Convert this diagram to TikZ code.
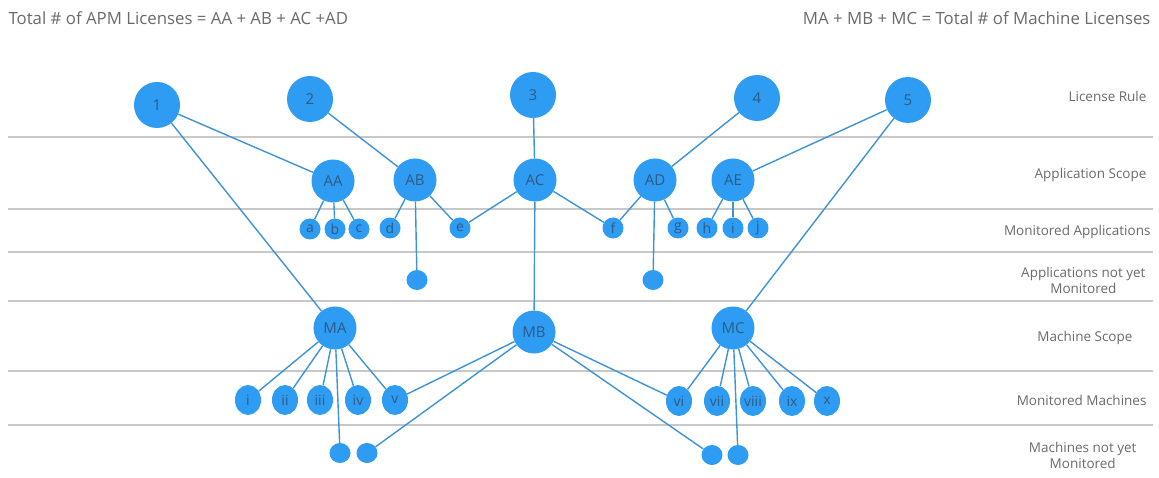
\documentclass[tikz,border=0pt]{standalone}
\usepackage{fontspec}
\setmainfont{Open Sans}
\usetikzlibrary{shapes.geometric}

\definecolor{kreis}{HTML}{2E9CF2}
\definecolor{kante}{HTML}{3C93D6}
\definecolor{schrift}{HTML}{2F5A85}
\definecolor{linie}{HTML}{C8C8C8}
\definecolor{grautext}{HTML}{6A6A6A}

\begin{document}
\begin{tikzpicture}[x=1pt,y=-1pt,
		regel/.style={circle,fill=kreis,minimum size=46pt,inner sep=0pt,text=schrift,font=\fontsize{15}{15}\selectfont},
		bereich/.style={circle,fill=kreis,minimum size=43pt,inner sep=0pt,text=schrift,font=\fontsize{15}{15}\selectfont},
		klein/.style={circle,fill=kreis,minimum size=21pt,inner sep=0pt,text=schrift,font=\fontsize{14}{14}\selectfont},
		maschine/.style={ellipse,fill=kreis,minimum width=26pt,minimum height=30pt,inner sep=0pt,text=schrift,font=\fontsize{14}{14}\selectfont},
		offen/.style={ellipse,fill=kreis,minimum width=21pt,minimum height=20pt,inner sep=0pt},
		verbindung/.style={draw=kante,line width=1.4pt},
		trenner/.style={draw=linie,line width=1.6pt},
		ebene/.style={anchor=east,align=center,text=grautext,font=\fontsize{13.5}{16}\selectfont},
		kopf/.style={text=grautext,font=\fontsize{16.8}{17}\selectfont}]
	\useasboundingbox (0,0) rectangle (1159,478);

	% Kopfzeile
	\node[kopf,anchor=west] (summeA) at (5,18) {Total \# of APM Licenses = AA + AB + AC +AD};
	\node[kopf,anchor=east] (summeM) at (1154,18) {MA + MB + MC = Total \# of Machine Licenses};

	% Trennlinien
	\draw[trenner] (8,137) -- (1153,137);
	\draw[trenner] (8,209) -- (1153,209);
	\draw[trenner] (8,252) -- (1153,252);
	\draw[trenner] (8,301) -- (1153,301);
	\draw[trenner] (8,371) -- (1153,371);
	\draw[trenner] (8,425) -- (1153,425);

	% Ebenen
	\node[ebene] (lRegel) at (1150,96) {License Rule};
	\node[ebene] (lAnw) at (1150,175) {Application Scope};
	\node[ebene] (lMonA) at (1154,232) {Monitored Applications};
	\node[ebene] (lOffenA) at (1149,280) {Applications not yet\\Monitored};
	\node[ebene] (lMasch) at (1136,338) {Machine Scope};
	\node[ebene] (lMonM) at (1150,400) {Monitored Machines};
	\node[ebene] (lOffenM) at (1140,455) {Machines not yet\\Monitored};

	% Lizenzregeln
	\node[regel] (r1) at (157,105) {1};
	\node[regel] (r2) at (310,99) {2};
	\node[regel] (r3) at (533,95) {3};
	\node[regel] (r4) at (757,98) {4};
	\node[regel] (r5) at (908,100) {5};

	% Anwendungen
	\node[bereich] (AA) at (333,181) {AA};
	\node[bereich] (AB) at (415,180) {AB};
	\node[bereich] (AC) at (535,180) {AC};
	\node[bereich] (AD) at (655,180) {AD};
	\node[bereich] (AE) at (733,180) {AE};

	\node[klein] (a) at (310,229) {a};
	\node[klein] (b) at (335,229) {b};
	\node[klein] (c) at (359,229) {c};
	\node[klein] (d) at (390,228) {d};
	\node[klein] (e) at (460,228) {e};
	\node[klein] (f) at (613,228) {f};
	\node[klein] (g) at (678,228) {g};
	\node[klein] (h) at (707,228) {h};
	\node[klein] (i) at (733,228) {i};
	\node[klein] (j) at (758,228) {j};

	\node[offen] (nB) at (417,280) {};
	\node[offen] (nD) at (653,280) {};

	% Maschinen
	\node[bereich] (MA) at (335,328) {MA};
	\node[bereich] (MB) at (534,332) {MB};
	\node[bereich] (MC) at (733,328) {MC};

	\node[maschine] (m1) at (248,400) {i};
	\node[maschine] (m2) at (285,400) {ii};
	\node[maschine] (m3) at (320,400) {iii};
	\node[maschine] (m4) at (358,400) {iv};
	\node[maschine] (m5) at (395,400) {v};
	\node[maschine] (m6) at (679,401) {vi};
	\node[maschine] (m7) at (717,401) {vii};
	\node[maschine] (m8) at (753,401) {viii};
	\node[maschine] (m9) at (792,401) {ix};
	\node[maschine] (m10) at (827,401) {x};

	\node[offen] (n1) at (340,453) {};
	\node[offen] (n2) at (367,453) {};
	\node[offen] (n3) at (712,455) {};
	\node[offen] (n4) at (738,455) {};

	% Verbindungen Lizenzregeln
	\draw[verbindung] (r1) -- (AA);
	\draw[verbindung] (r1) -- (MA);
	\draw[verbindung] (r2) -- (AB);
	\draw[verbindung] (r3) -- (AC);
	\draw[verbindung] (r4) -- (AD);
	\draw[verbindung] (r5) -- (AE);
	\draw[verbindung] (r5) -- (MC);

	% Verbindungen Anwendungen
	\draw[verbindung] (AA) -- (a);
	\draw[verbindung] (AA) -- (b);
	\draw[verbindung] (AA) -- (c);
	\draw[verbindung] (AB) -- (d);
	\draw[verbindung] (AB) -- (e);
	\draw[verbindung] (AB) -- (nB);
	\draw[verbindung] (AC) -- (e);
	\draw[verbindung] (AC) -- (f);
	\draw[verbindung] (AC) -- (MB);
	\draw[verbindung] (AD) -- (f);
	\draw[verbindung] (AD) -- (g);
	\draw[verbindung] (AD) -- (nD);
	\draw[verbindung] (AE) -- (h);
	\draw[verbindung] (AE) -- (i);
	\draw[verbindung] (AE) -- (j);

	% Verbindungen Maschinen
	\draw[verbindung] (MA) -- (m1);
	\draw[verbindung] (MA) -- (m2);
	\draw[verbindung] (MA) -- (m3);
	\draw[verbindung] (MA) -- (m4);
	\draw[verbindung] (MA) -- (m5);
	\draw[verbindung] (MA) -- (n1);
	\draw[verbindung] (MB) -- (m5);
	\draw[verbindung] (MB) -- (n2);
	\draw[verbindung] (MB) -- (m6);
	\draw[verbindung] (MB) -- (n3);
	\draw[verbindung] (MC) -- (m6);
	\draw[verbindung] (MC) -- (m7);
	\draw[verbindung] (MC) -- (m8);
	\draw[verbindung] (MC) -- (m9);
	\draw[verbindung] (MC) -- (m10);
	\draw[verbindung] (MC) -- (n4);

\end{tikzpicture}
\end{document}
